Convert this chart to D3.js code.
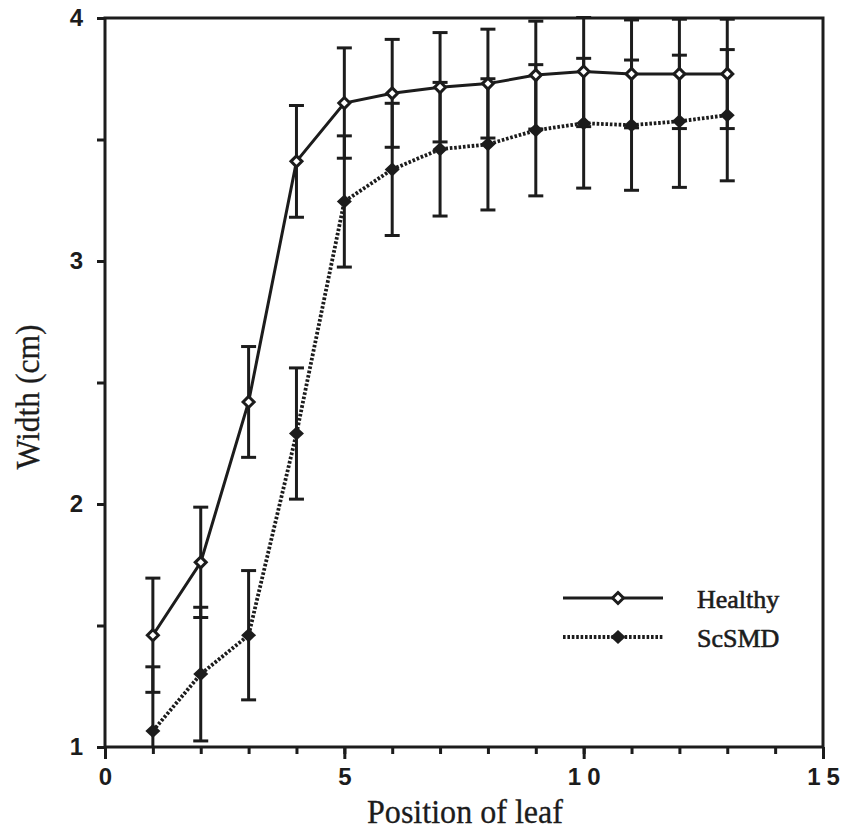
<!DOCTYPE html>
<html>
<head>
<meta charset="utf-8">
<script src="https://cdn.jsdelivr.net/npm/d3@7"></script>
<style>
  html, body { margin: 0; padding: 0; background: #fff; }
  svg { display: block; }
</style>
</head>
<body>
<svg id="chart" width="845" height="831"></svg>
<script>
// Leaf width by leaf position, healthy vs ScSMD plants (mean ± error)
const leafPositions = [1, 2, 3, 4, 5, 6, 7, 8, 9, 10, 11, 12, 13];
const healthyWidth  = [1.46, 1.76, 2.42, 3.41, 3.65, 3.69, 3.715, 3.73, 3.765, 3.78, 3.77, 3.77, 3.77];
const healthyErr    = [0.235, 0.227, 0.228, 0.23, 0.227, 0.222, 0.225, 0.224, 0.222, 0.227, 0.222, 0.225, 0.225];
const scsmdWidth    = [1.066, 1.30, 1.46, 2.29, 3.245, 3.377, 3.46, 3.48, 3.538, 3.567, 3.559, 3.575, 3.60];
const scsmdErr      = [0.264, 0.275, 0.266, 0.27, 0.27, 0.272, 0.275, 0.27, 0.27, 0.267, 0.268, 0.272, 0.27];
const xMajorTicks   = [0, 5, 10, 15];
const xMinorTicks   = d3.range(0, 16);
const yTicks        = [1, 1.5, 2, 2.5, 3, 3.5, 4];
const seriesNames   = ["Healthy", "ScSMD"];

const ink = "#1c1c1c";
const dots = "2.6,1.8";
const svg = d3.select("#chart");

const x = d3.scaleLinear().domain([0, 15]).range([105, 823]);
const y = d3.scaleLinear().domain([1, 4]).range([747, 18]);

// clip region for the plotting area
svg.append("defs").append("clipPath").attr("id", "plot-clip")
  .append("rect")
  .attr("x", x(0)).attr("y", y(4) - 2)
  .attr("width", x(15) - x(0)).attr("height", y(1) - y(4) + 2);

// frame
svg.append("rect")
  .attr("x", x(0)).attr("y", y(4))
  .attr("width", x(15) - x(0)).attr("height", y(1) - y(4))
  .attr("fill", "none").attr("stroke", ink).attr("stroke-width", 3);

// x axis: minor ticks every leaf, longer labelled ticks every 5
const xMinor = svg.append("g")
  .attr("transform", `translate(0,${y(1)})`)
  .call(d3.axisBottom(x).tickValues(xMinorTicks).tickSize(7).tickSizeOuter(0).tickFormat(""));
xMinor.select(".domain").remove();
xMinor.selectAll("line").attr("stroke", ink).attr("stroke-width", 3);

const xMajor = svg.append("g")
  .attr("transform", `translate(0,${y(1)})`)
  .call(d3.axisBottom(x).tickValues(xMajorTicks).tickSize(12).tickSizeOuter(0).tickPadding(9));
xMajor.select(".domain").remove();
xMajor.selectAll("line").attr("stroke", ink).attr("stroke-width", 3);
xMajor.selectAll("text")
  .attr("fill", ink)
  .style("font-family", "'Liberation Sans', Arial, sans-serif")
  .style("font-weight", "bold")
  .style("font-size", "24px")
  .style("letter-spacing", "6px")
  .attr("dx", "3px");

// y axis
const yAxis = svg.append("g")
  .attr("transform", `translate(${x(0)},0)`)
  .call(d3.axisLeft(y).tickValues(yTicks).tickSize(8).tickSizeOuter(0).tickPadding(14)
    .tickFormat(d => Number.isInteger(d) ? d3.format("d")(d) : ""));
yAxis.select(".domain").remove();
yAxis.selectAll("line").attr("stroke", ink).attr("stroke-width", 3);
yAxis.selectAll("text")
  .attr("fill", ink)
  .style("font-family", "'Liberation Sans', Arial, sans-serif")
  .style("font-weight", "bold")
  .style("font-size", "24px");

// axis titles
svg.append("text")
  .attr("x", 465).attr("y", 823)
  .attr("text-anchor", "middle")
  .attr("textLength", 196).attr("lengthAdjust", "spacingAndGlyphs")
  .style("font-family", "'Liberation Serif', 'Times New Roman', serif")
  .style("font-size", "34px")
  .attr("fill", ink).attr("stroke", ink).attr("stroke-width", 0.3)
  .text("Position of leaf");

svg.append("text")
  .attr("transform", "translate(39,397) rotate(-90)")
  .attr("text-anchor", "middle")
  .attr("textLength", 145).attr("lengthAdjust", "spacingAndGlyphs")
  .style("font-family", "'Liberation Serif', 'Times New Roman', serif")
  .style("font-size", "34px")
  .attr("fill", ink).attr("stroke", ink).attr("stroke-width", 0.3)
  .text("Width (cm)");

const healthy = leafPositions.map((p, i) => ({ p, v: healthyWidth[i], e: healthyErr[i] }));
const scsmd   = leafPositions.map((p, i) => ({ p, v: scsmdWidth[i], e: scsmdErr[i] }));

const plot = svg.append("g").attr("clip-path", "url(#plot-clip)");

// error bars
function drawErrors(data) {
  const g = plot.append("g").attr("stroke", ink).attr("stroke-width", 3).attr("fill", "none");
  const cap = 7.5;
  data.forEach(d => {
    const top = y(d.v + d.e), bot = y(d.v - d.e), cx = x(d.p);
    g.append("line").attr("x1", cx).attr("x2", cx).attr("y1", top).attr("y2", bot);
    g.append("line").attr("x1", cx - cap).attr("x2", cx + cap).attr("y1", top).attr("y2", top);
    g.append("line").attr("x1", cx - cap).attr("x2", cx + cap).attr("y1", bot).attr("y2", bot);
  });
}
drawErrors(healthy);
drawErrors(scsmd);

const line = d3.line().x(d => x(d.p)).y(d => y(d.v));

plot.append("path").datum(healthy)
  .attr("d", line).attr("fill", "none")
  .attr("stroke", ink).attr("stroke-width", 3);

plot.append("path").datum(scsmd)
  .attr("d", line).attr("fill", "none")
  .attr("stroke", ink).attr("stroke-width", 3.8)
  .attr("stroke-dasharray", dots);

// diamond marker path centred at 0,0
const diamond = (hw, hh) => `M0,${-hh}L${hw},0L0,${hh}L${-hw},0Z`;

function openMarker(sel) {
  sel.append("path").attr("d", diamond(5.5, 5.5))
    .attr("fill", "#fff").attr("stroke", ink).attr("stroke-width", 3);
}
function filledMarker(sel) {
  sel.append("path").attr("d", diamond(7.5, 7)).attr("fill", ink);
}

healthy.forEach(d => {
  plot.append("g").attr("transform", `translate(${x(d.p)},${y(d.v)})`).call(openMarker);
});
scsmd.forEach(d => {
  plot.append("g").attr("transform", `translate(${x(d.p)},${y(d.v)})`).call(filledMarker);
});

// legend
const legend = svg.append("g");
const legendRows = [
  { name: seriesNames[0], ly: 598, dashed: false, marker: openMarker },
  { name: seriesNames[1], ly: 637, dashed: true,  marker: filledMarker }
];
legendRows.forEach(r => {
  const ln = legend.append("line")
    .attr("x1", 563).attr("x2", 663).attr("y1", r.ly).attr("y2", r.ly)
    .attr("stroke", ink).attr("stroke-width", r.dashed ? 3.8 : 3);
  if (r.dashed) ln.attr("stroke-dasharray", dots);
  legend.append("g").attr("transform", `translate(618,${r.ly})`).call(r.marker);
  legend.append("text")
    .attr("x", 697).attr("y", r.ly + 10)
    .style("font-family", "'Liberation Serif', 'Times New Roman', serif")
    .style("font-size", "26px")
    .attr("fill", ink).attr("stroke", ink).attr("stroke-width", 0.6)
    .text(r.name);
});
</script>
</body>
</html>
